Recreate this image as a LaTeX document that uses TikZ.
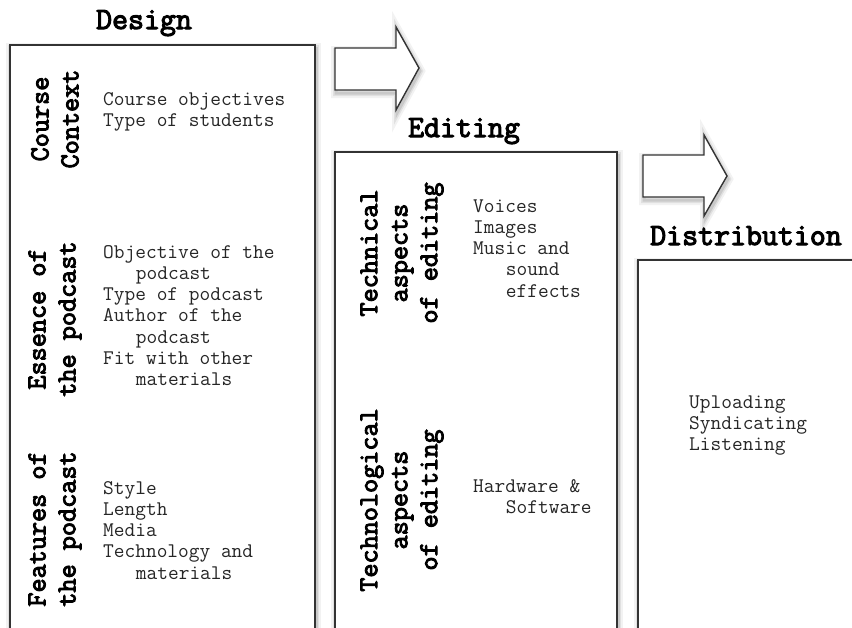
\documentclass[tikz,border=0pt]{standalone}
\usepackage{fontspec}
% heavy typewriter face for titles and topic labels
\newfontfamily\heavytt[FakeBold=3.5]{Latin Modern Mono}
% hanging indent of three monospaced characters
\newcommand\hang{\hspace*{1.575em}}
\begin{document}
\begin{tikzpicture}[x=1pt,y=-1pt,
  softshadow/.style={
    preaction={draw=black, draw opacity=0.05, line width=10pt, transform canvas={shift={(1pt,-3pt)}}},
    preaction={draw=black, draw opacity=0.07, line width=6pt, transform canvas={shift={(1pt,-3pt)}}},
    preaction={draw=black, draw opacity=0.10, line width=3pt, transform canvas={shift={(1pt,-3pt)}}}},
  panel/.style={softshadow, draw=black!80, line width=1.4pt, fill=white},
  blockarrow/.style={softshadow, draw=black!80, line width=1.4pt, fill=white, line join=miter},
  head/.style={font=\fontsize{31}{34}\heavytt, anchor=base, inner sep=0pt},
  topic/.style={font=\fontsize{27.4}{30}\heavytt, rotate=90, align=center, inner sep=0pt},
  items/.style={font=\fontsize{20.8}{21.3}\ttfamily, text=black!85, align=left, anchor=base west, inner sep=0pt}]
\useasboundingbox (0,0) rectangle (852,627);
\fill[white] (0,0) rectangle (852,627);
\clip (0,0) rectangle (852,627);

% stage panels (open towards the bottom edge)
\draw[panel] (10,45) rectangle (315,660);
\draw[panel] (335,152) rectangle (617,660);
\draw[panel] (638,260) rectangle (880,660);

% block arrows between stages
\draw[blockarrow] (335,48) -- (396,48) -- (396,27) -- (419,68) -- (396,110) -- (396,90) -- (335,90) -- cycle;
\draw[blockarrow] (643,155) -- (704,155) -- (704,135) -- (727,176) -- (704,216) -- (704,197) -- (643,197) -- cycle;

% stage titles
\node[head] (design) at (144,29) {Design};
\node[head] (editing) at (464,137) {Editing};
\node[head] (distribution) at (746,245) {Distribution};

% Design (the base anchor of a multi-line node sits on its last line)
\node[topic] (context) at (55,119) {Course\\Context};
\node[items] (contextitems) at (103,126.3) {Course objectives\\Type of students};
\node[topic] (essence) at (55,319) {Essence of\\the podcast};
\node[items] (essenceitems) at (103,385.8) {Objective of the\\\hang podcast\\Type of podcast\\Author of the\\\hang podcast\\Fit with other\\\hang materials};
\node[topic] (features) at (55,529) {Features of\\the podcast};
\node[items] (featureitems) at (103,579.2) {Style\\Length\\Media\\Technology and\\\hang materials};

% Editing
\node[topic] (technical) at (402,253) {Technical\\aspects\\of editing};
\node[items] (technicalitems) at (473,297.2) {Voices\\Images\\Music and\\\hang sound\\\hang effects};
\node[topic] (technological) at (402,500) {Technological\\aspects\\of editing};
\node[items] (technologicalitems) at (473,513.3) {Hardware \&\\\hang Software};

% Distribution
\node[items] (distitems) at (689,450.6) {Uploading\\Syndicating\\Listening};
\end{tikzpicture}
\end{document}
